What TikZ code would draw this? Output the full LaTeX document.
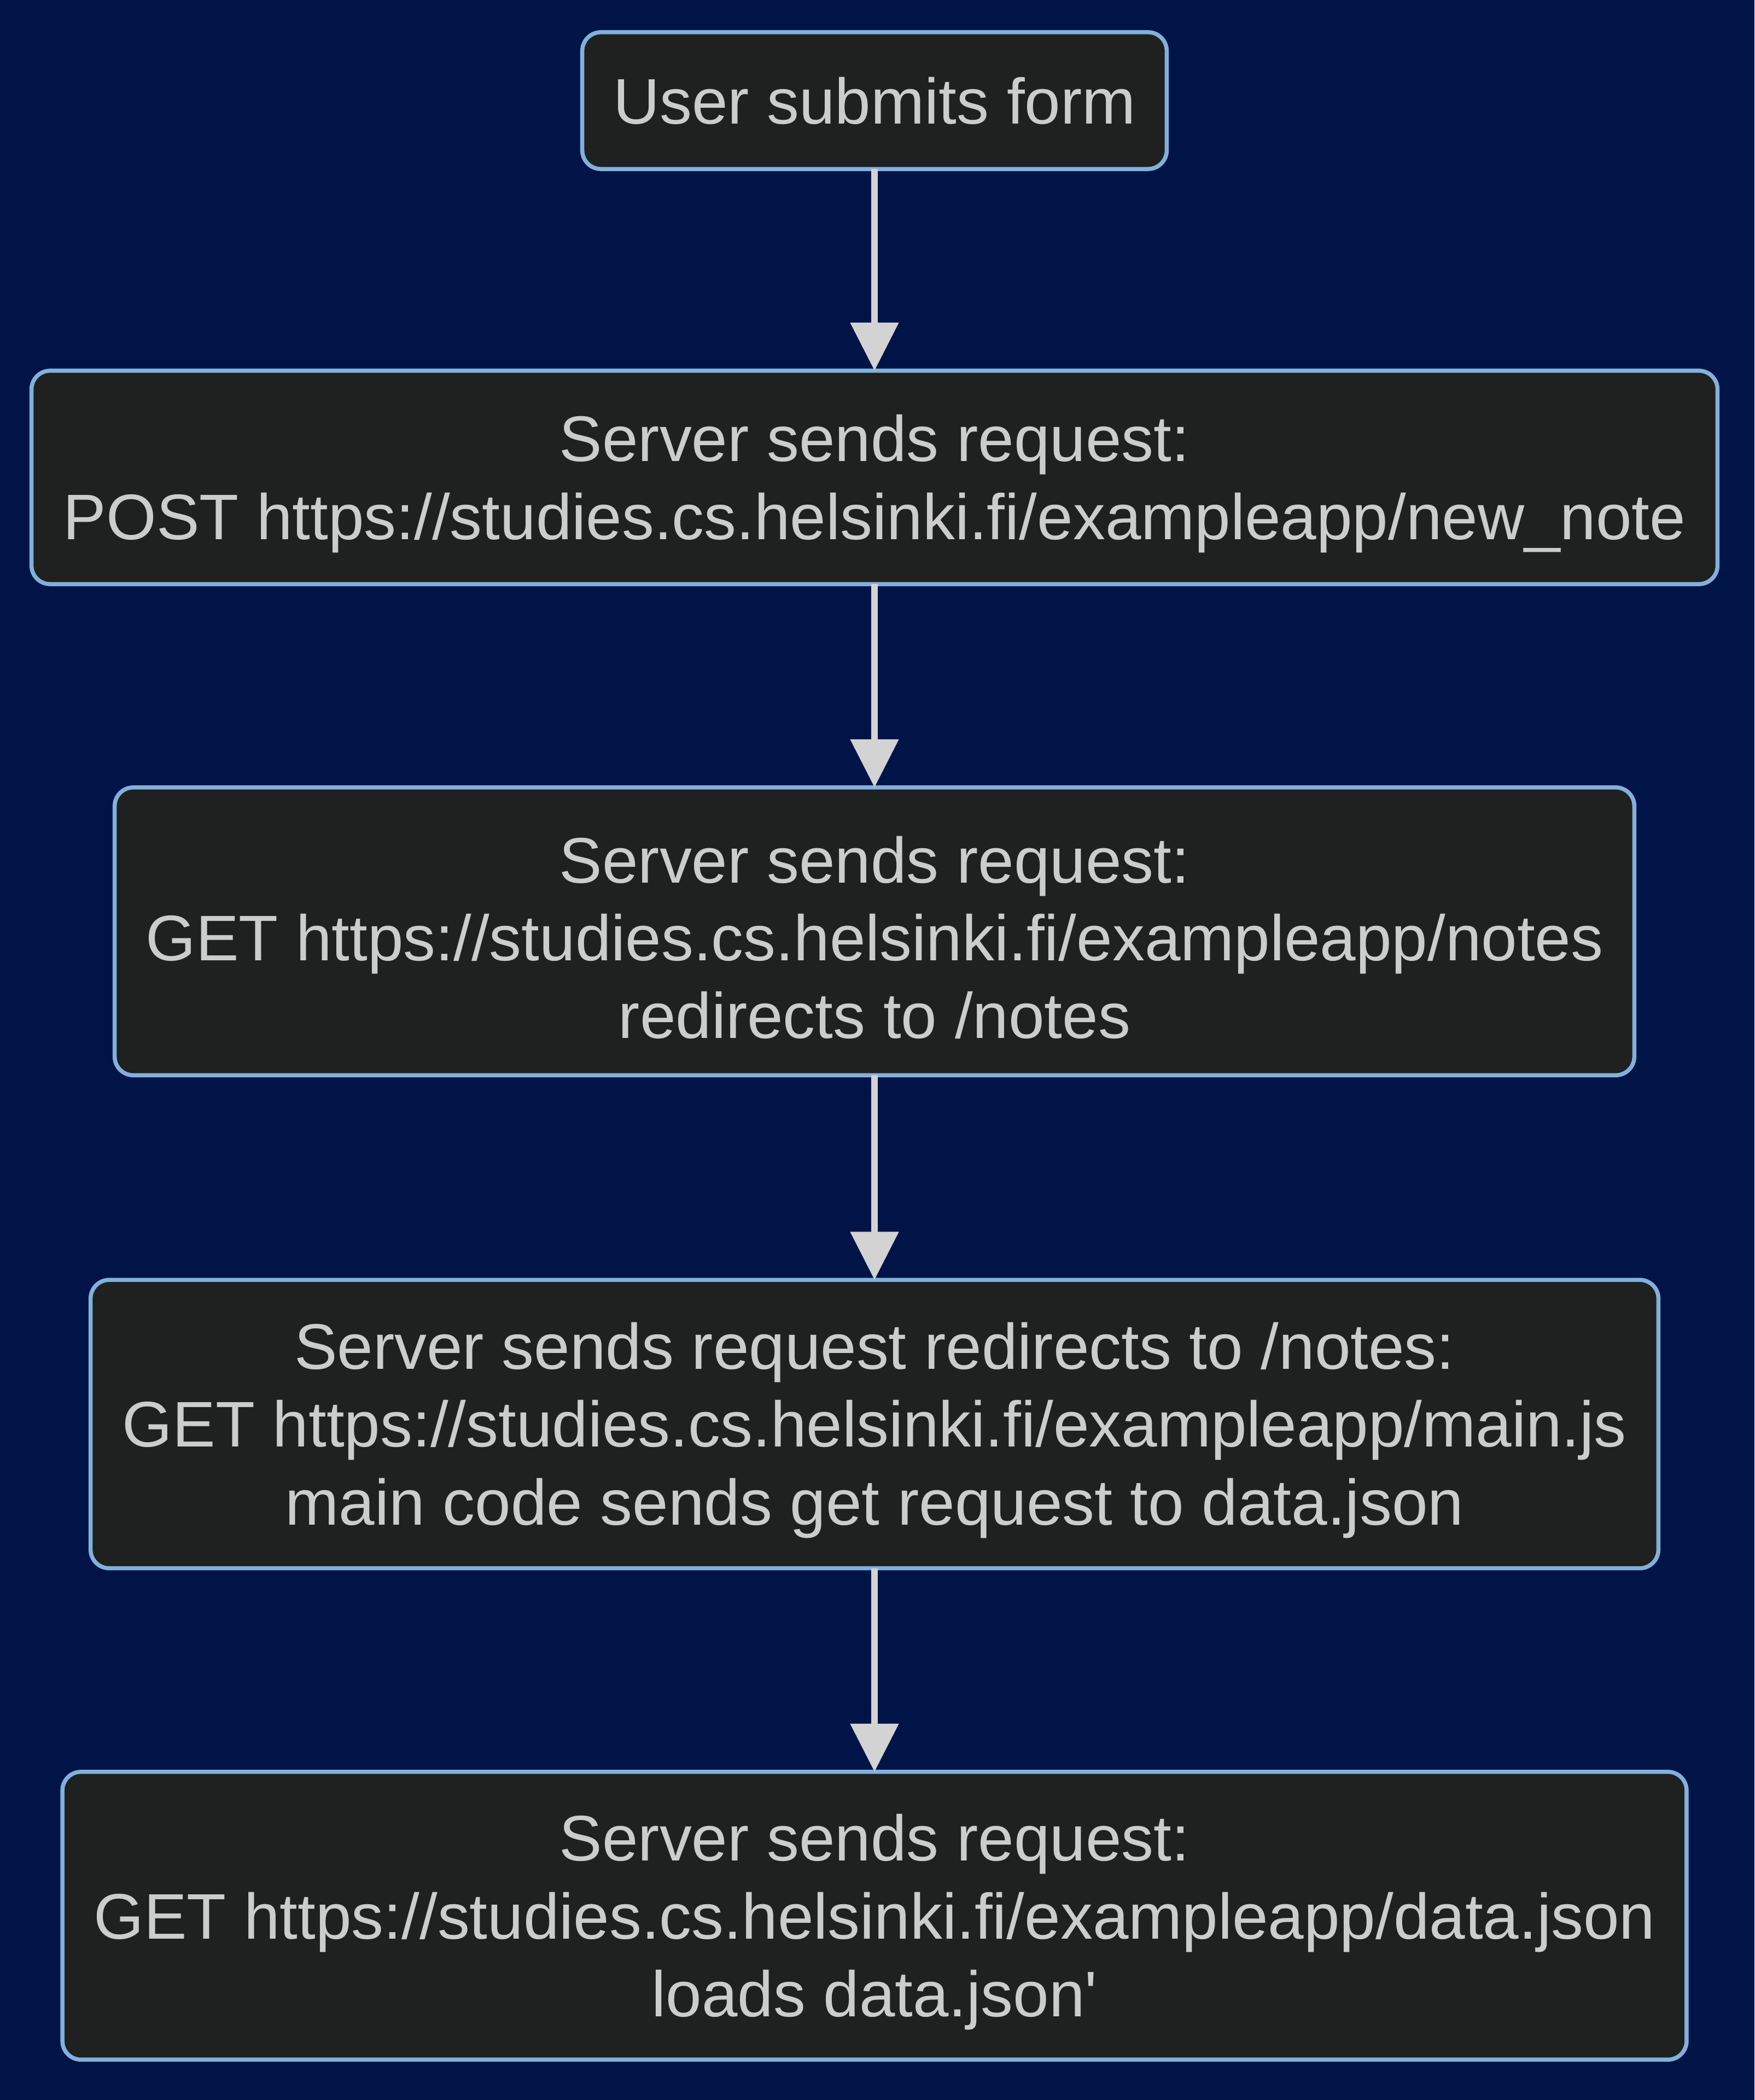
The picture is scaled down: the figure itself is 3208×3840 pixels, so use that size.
\documentclass[tikz,border=0pt]{standalone}
\usepackage{fontspec}
\newfontfamily\nf{Liberation Sans}
\usetikzlibrary{arrows.meta}
\definecolor{bgc}{HTML}{001447}
\definecolor{boxfill}{HTML}{1F2020}
\definecolor{boxline}{HTML}{81B1DB}
\definecolor{txt}{HTML}{CCCCCC}
\definecolor{arrc}{HTML}{D3D3D3}
\begin{document}
\begin{tikzpicture}[x=0.01cm,y=-0.01cm,
  flowbox/.style={draw=boxline, fill=boxfill, line width=0.075cm, rounded corners=0.34cm,
    inner sep=0pt, outer sep=0pt},
  flowtext/.style={text=txt, align=center, inner sep=0pt,
    font=\nf\fontsize{33.5pt}{40.4pt}\selectfont},
  arr/.style={draw=arrc, line width=0.12cm, -{Triangle[length=0.88cm,width=0.86cm]}}]
\fill[bgc] (0,0) rectangle (3208,3840);
\useasboundingbox (0,0) rectangle (3208,3840);
\node[flowbox, minimum width=10.68cm, minimum height=2.50cm] (n1) at (1599,184) {};
\node[flowbox, minimum width=30.81cm, minimum height=3.90cm] (n2) at (1599,873) {};
\node[flowbox, minimum width=27.77cm, minimum height=5.26cm] (n3) at (1599,1703) {};
\node[flowbox, minimum width=28.65cm, minimum height=5.27cm] (n4) at (1599,2604) {};
\node[flowbox, minimum width=29.68cm, minimum height=5.26cm] (n5) at (1599,3503) {};
\node[flowtext] (t1) at (n1.center) {User submits form};
\node[flowtext, yshift=-0.115cm] (t2) at (n2.center) {Server sends request:\\POST https://studies.cs.helsinki.fi/exampleapp/new\_note};
\node[flowtext, yshift=-0.115cm] (t3) at (n3.center) {Server sends request:\\GET https://studies.cs.helsinki.fi/exampleapp/notes\\redirects to /notes};
\node[flowtext, yshift=-0.115cm] (t4) at (n4.center) {Server sends request redirects to /notes:\\GET https://studies.cs.helsinki.fi/exampleapp/main.js\\main code sends get request to data.json};
\node[flowtext, yshift=-0.115cm] (t5) at (n5.center) {Server sends request:\\GET https://studies.cs.helsinki.fi/exampleapp/data.json\\loads data.json'};
\draw[arr] (n1) -- (n2);
\draw[arr] (n2) -- (n3);
\draw[arr] (n3) -- (n4);
\draw[arr] (n4) -- (n5);
\end{tikzpicture}
\end{document}
